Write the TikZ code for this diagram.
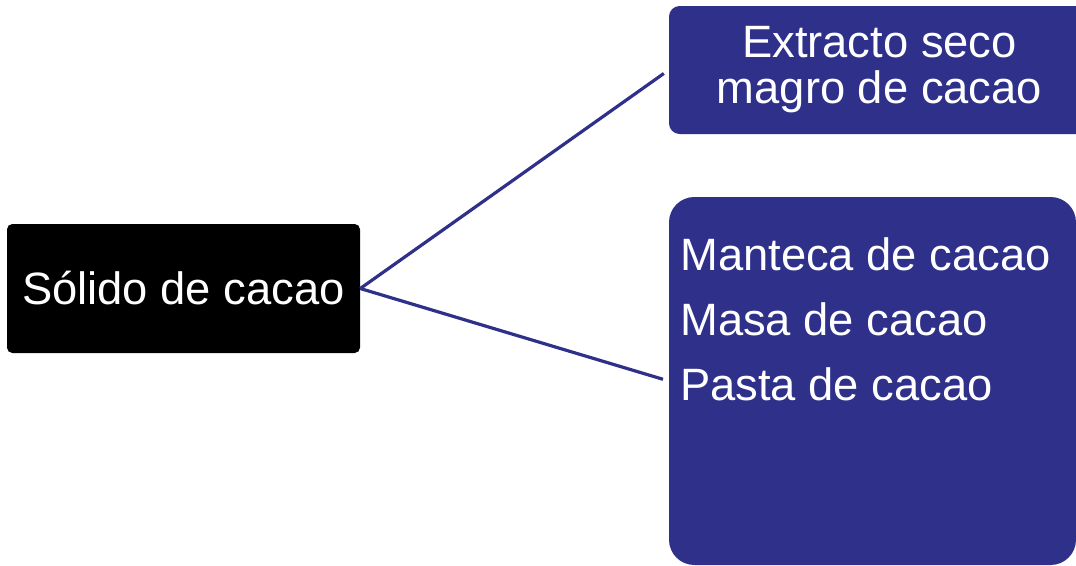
\documentclass[tikz,border=0pt]{standalone}
\usepackage{fontspec}
\setmainfont{Liberation Sans}
\usepackage{xcolor}
\definecolor{cacaoazul}{RGB}{46,48,138}

\tikzset{
	raiz/.style={fill=black, text=white, rounded corners=4pt,
		minimum width=264.75pt, minimum height=96.75pt, inner sep=0pt},
	hoja/.style={fill=cacaoazul, text=white, inner sep=0pt},
	conector/.style={draw=cacaoazul, line width=2.4pt, shorten >=4.5pt}
}

\begin{document}
\begin{tikzpicture}[x=0.75pt, y=-0.75pt, font=\fontsize{34}{48.75}\selectfont]
	\useasboundingbox (0,0) rectangle (1076,565);
	
	\node[raiz] (solido) at (183.5,288.5) {Sólido de cacao};
	
	\node[hoja, rounded corners=8pt, minimum width=315.75pt, minimum height=96pt,
		align=center, font=\fontsize{34}{34.5}\selectfont] (extracto) at (879.5,70)
		{Extracto seco\\magro de cacao};
	
	\node[hoja, rounded corners=19pt, minimum width=305.25pt, minimum height=276pt] (lista) at (872.5,381) {};
	\node[text=white, inner sep=0pt, anchor=north west, align=left] (productos) at (680,237)
		{Manteca de cacao\\Masa de cacao\\Pasta de cacao};
	
	\draw[conector] (solido.east) -- (extracto.west);
	\draw[conector] (solido.east) -- (lista.west);
\end{tikzpicture}
\end{document}
